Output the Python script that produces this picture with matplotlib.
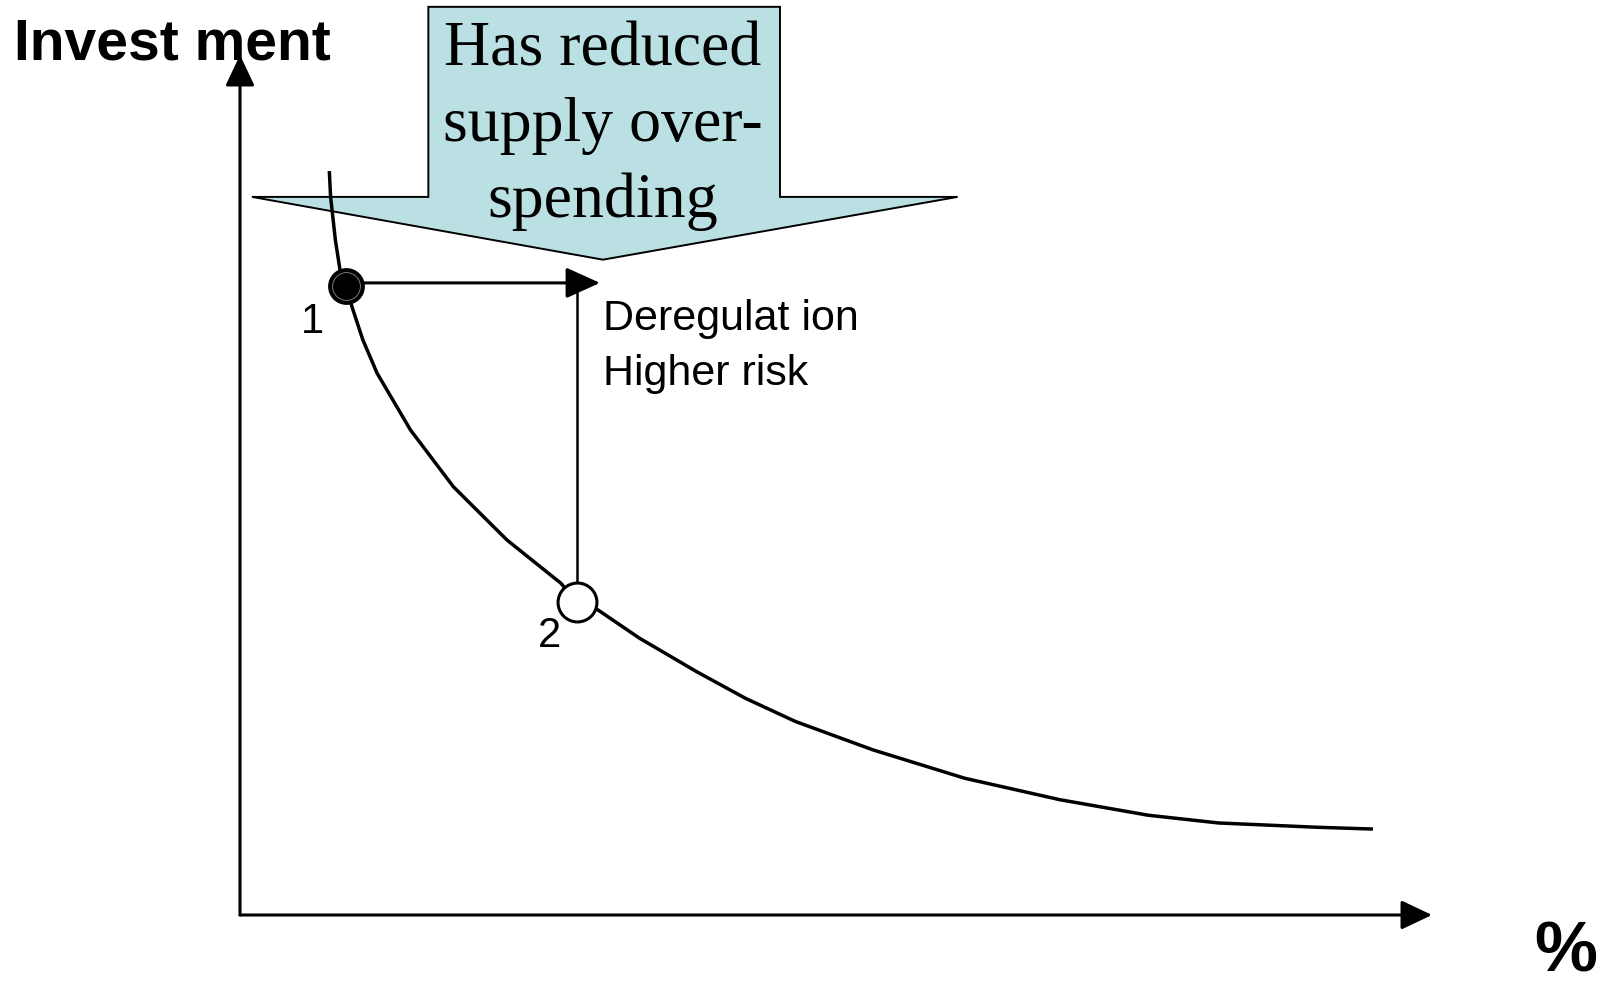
import matplotlib.pyplot as plt
from matplotlib.patches import Polygon

# Fuentes parecidas a Arial / Times
plt.rcParams['font.family'] = ['Liberation Sans', 'DejaVu Sans']

# Curva inversión vs % (ejes 0-100)
curve_x = [7.5, 7.6, 8.0, 8.4, 8.9, 9.4, 10.3, 11.5, 14.3, 17.9, 22.4, 26.9, 28.3,
           30.0, 33.5, 38.3, 42.4, 46.6, 53.1, 60.8, 68.8, 76.2, 82.1, 90.4, 94.9]
curve_y = [86.3, 83.5, 78.5, 74.9, 73.1, 70.7, 66.9, 63.0, 56.4, 49.8, 43.6, 38.6, 36.4,
           35.5, 32.2, 28.3, 25.2, 22.5, 19.2, 15.9, 13.4, 11.6, 10.7, 10.2, 10.0]

# Puntos 1 (antes) y 2 (después)
point_labels = ['1', '2']
point_x = [8.9, 28.3]
point_y = [73.1, 36.4]

# Flecha grande (forma del recuadro)
banner_x = [15.8, 45.3, 45.3, 60.2, 30.45, 1.0, 15.8]
banner_y = [105.6, 105.6, 83.5, 83.5, 76.2, 83.5, 83.5]
banner_lines = ['Has reduced', 'supply over-', 'spending']
note_lines = ['Deregulat ion', 'Higher risk']

fig = plt.figure(figsize=(16.09, 9.89), dpi=100)
ax = fig.add_axes([240 / 1609, 74 / 989, 1192 / 1609, 860 / 989])
ax.set_xlim(0, 100)
ax.set_ylim(0, 100)
ax.axis('off')

# Ejes con flecha
ax.annotate('', xy=(0, 100), xytext=(0, 0), annotation_clip=False,
            arrowprops=dict(arrowstyle='-|>,head_length=1.9,head_width=0.9',
                            mutation_scale=10, lw=2.2, color='black',
                            shrinkA=0, shrinkB=0))
ax.annotate('', xy=(100, 0), xytext=(0, 0), annotation_clip=False,
            arrowprops=dict(arrowstyle='-|>,head_length=1.9,head_width=0.9',
                            mutation_scale=10, lw=2.2, color='black',
                            shrinkA=0, shrinkB=0))

# Flecha grande celeste
banner = Polygon(list(zip(banner_x, banner_y)), closed=True, facecolor='#bbe0e3',
                 edgecolor='black', lw=1.4, zorder=2, clip_on=False)
ax.add_patch(banner)
for i, line in enumerate(banner_lines):
    ax.text(30.45, 98.8 - i * 8.8, line, ha='center', va='baseline', fontsize=46,
            family=['Liberation Serif', 'DejaVu Serif'], zorder=3, clip_on=False)

# Curva
ax.plot(curve_x, curve_y, color='black', lw=2.5, zorder=4)

# Flecha horizontal y línea vertical
ax.annotate('', xy=(point_x[1] + 1.9, point_y[0] + 0.4), xytext=(point_x[0], point_y[0] + 0.4),
            arrowprops=dict(arrowstyle='-|>,head_length=2.1,head_width=0.95',
                            mutation_scale=10, lw=2.2, color='black',
                            shrinkA=0, shrinkB=0), zorder=4)
ax.plot([point_x[1], point_x[1]], [point_y[1], 72.5], color='black', lw=1.8, zorder=4)

# Puntos
ax.plot(point_x[0], point_y[0], 'o', ms=25, mfc='black', mec='black', mew=1.5, zorder=5)
ax.plot(point_x[0], point_y[0], 'o', ms=20, mfc='black', mec='0.55', mew=0.6, zorder=6)
ax.plot(point_x[1], point_y[1], 'o', ms=28, mfc='white', mec='black', mew=2.2, zorder=5)

ax.text(6.1, 67.7, point_labels[0], ha='center', va='baseline', fontsize=30)
ax.text(26.0, 31.2, point_labels[1], ha='center', va='baseline', fontsize=30)

for i, line in enumerate(note_lines):
    ax.text(30.45, 68.0 - i * 6.35, line, ha='left', va='baseline', fontsize=31)

# Títulos de los ejes
fig.text(14 / 1609, 1 - 60 / 989, 'Invest ment', ha='left', va='baseline',
         fontsize=41, fontweight='bold')
fig.text(1534 / 1609, 1 - 971 / 989, '%', ha='left', va='baseline',
         fontsize=51, fontweight='bold')

plt.savefig('out.png', dpi=100)
plt.close()
